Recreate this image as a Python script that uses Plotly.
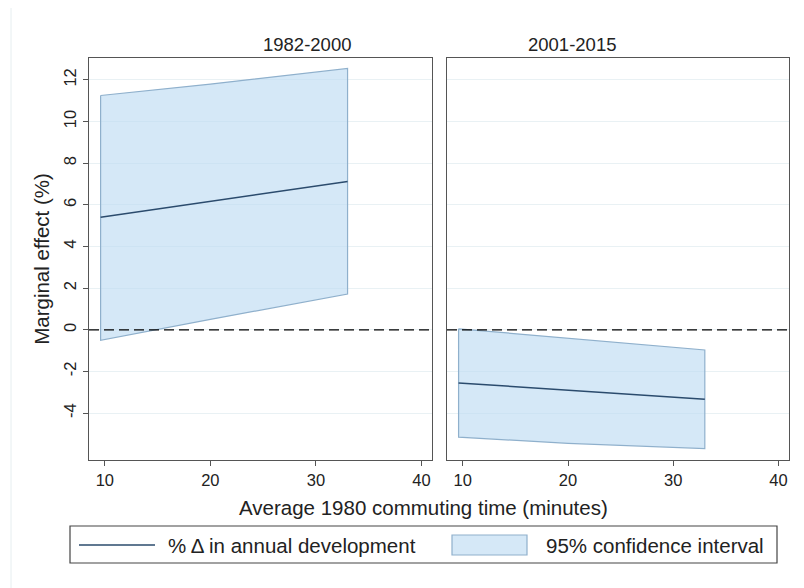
import plotly.graph_objects as go

# ---- data ----
x_vals = [9.6, 20.0, 33.0]
# 1982-2000
p1_mid = [5.4, 6.15, 7.12]
p1_hi = [11.25, 11.8, 12.55]
p1_lo = [-0.5, 0.5, 1.72]
# 2001-2015
p2_mid = [-2.55, -2.9, -3.33]
p2_hi = [0.05, -0.4, -0.97]
p2_lo = [-5.15, -5.45, -5.7]

panel_titles = ["1982-2000", "2001-2015"]
y_ticks = [-4, -2, 0, 2, 4, 6, 8, 10, 12]
y_tick_labels = ["-4", "-2", "0", "2", "4", "6", "8", "10", "12"]
x_ticks = [10, 20, 30, 40]
legend_labels = ["% Δ in annual development", "95% confidence interval"]

FILL = "rgba(190,220,242,0.65)"
EDGE = "#8fb0cc"
MID = "#2b4b6d"
FONT = "Liberation Sans, Arial, sans-serif"
TXT = "#222222"

fig = go.Figure()
panels = [(p1_mid, p1_hi, p1_lo, "x", "y"), (p2_mid, p2_hi, p2_lo, "x2", "y2")]
for mid, hi, lo, xa, ya in panels:
    fig.add_trace(go.Scatter(
        x=x_vals + x_vals[::-1] + [x_vals[0]],
        y=hi + lo[::-1] + [hi[0]],
        mode="lines", fill="toself", fillcolor=FILL,
        line=dict(color=EDGE, width=1.2),
        xaxis=xa, yaxis=ya, showlegend=False, hoverinfo="skip"))
    fig.add_trace(go.Scatter(
        x=x_vals, y=mid, mode="lines",
        line=dict(color=MID, width=1.5),
        xaxis=xa, yaxis=ya, showlegend=False))

# page body offset (8px) compensation
OFF = 8
W, H = 804 - OFF, 588 - OFF
L, R, T, B = 89, 789, 58, 460       # plot region in page pixels
ml, mr, mt, mb = L - OFF, (W + OFF) - R, T - OFF, (H + OFF) - B
pw = R - L
ph = B - T
split1 = (432 - L) / pw
split2 = (447 - L) / pw

def px(x):
    return (x - L) / pw

def py(y):
    return (B - y) / ph

axis_common = dict(showline=True, mirror=True, linecolor="#555555", linewidth=1.2,
                   ticks="outside", ticklen=5, tickcolor="#555555",
                   tickfont=dict(family=FONT, size=16.5, color=TXT))
xcommon = dict(axis_common, range=[8.5, 41.0], tickvals=x_ticks, showgrid=False, zeroline=False)
ycommon = dict(axis_common, range=[-6.25, 13.05], tickvals=y_ticks, ticktext=y_tick_labels,
               showgrid=True, gridcolor="#e9f1f4", gridwidth=1, zeroline=False)

fig.update_layout(
    width=W, height=H,
    margin=dict(l=ml, r=mr, t=mt, b=mb),
    paper_bgcolor="white", plot_bgcolor="white",
    font=dict(family=FONT, color=TXT),
    showlegend=False,
    xaxis=dict(xcommon, domain=[0, split1], anchor="y"),
    xaxis2=dict(xcommon, domain=[split2, 1], anchor="y2"),
    yaxis=dict(ycommon, domain=[0, 1], anchor="x", tickangle=-90,
               title=dict(text="Marginal effect (%)", font=dict(size=20.5, family=FONT, color=TXT),
                          standoff=6)),
    yaxis2=dict(ycommon, domain=[0, 1], anchor="x2", showticklabels=False, ticks=""),
)

# dashed zero lines
for xr, yr in [("x domain", "y"), ("x2 domain", "y2")]:
    fig.add_shape(type="line", xref=xr, yref=yr, x0=0, x1=1, y0=0, y1=0,
                  line=dict(color="black", width=1.3, dash="10px,5px"))

# panel titles
for title, (d0, d1) in zip(panel_titles, [(0, split1), (split2, 1)]):
    fig.add_annotation(text=title, xref="paper", yref="paper", x=(d0 + d1) / 2, y=py(44),
                       yanchor="middle", showarrow=False,
                       font=dict(size=18.5, family=FONT, color=TXT))

# x-axis title
fig.add_annotation(text="Average 1980 commuting time (minutes)", xref="paper", yref="paper",
                   x=px(423), y=py(508), yanchor="middle",
                   showarrow=False, font=dict(size=20.5, family=FONT, color=TXT))

# manual legend
fig.add_shape(type="rect", xref="paper", yref="paper", x0=px(70), x1=px(777), y0=py(563), y1=py(526),
              line=dict(color="#444444", width=1.2), fillcolor="white")
fig.add_shape(type="line", xref="paper", yref="paper", x0=px(79), x1=px(155), y0=py(545), y1=py(545),
              line=dict(color=MID, width=1.5))
fig.add_annotation(text=legend_labels[0], xref="paper", yref="paper", x=px(166), y=py(545),
                   xanchor="left", yanchor="middle", showarrow=False,
                   font=dict(size=20.5, family=FONT, color=TXT))
fig.add_shape(type="rect", xref="paper", yref="paper", x0=px(452), x1=px(527), y0=py(555), y1=py(535),
              line=dict(color=EDGE, width=1.2), fillcolor=FILL)
fig.add_annotation(text=legend_labels[1], xref="paper", yref="paper", x=px(544), y=py(545),
                   xanchor="left", yanchor="middle", showarrow=False,
                   font=dict(size=20.5, family=FONT, color=TXT))

# faint outer frame
fig.add_shape(type="rect", xref="paper", yref="paper", x0=px(11), x1=px(820), y0=py(600), y1=py(5),
              line=dict(color="#e6eef0", width=1), fillcolor="rgba(0,0,0,0)", layer="below")

fig.write_html("out.html")
